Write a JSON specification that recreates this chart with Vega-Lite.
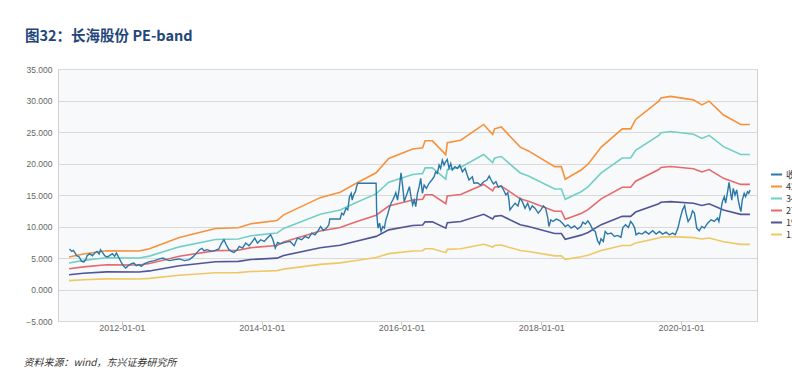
{
"$schema": "https://vega.github.io/schema/vega-lite/v6.json",
"autosize": {"type": "none"},
"width": 699, "height": 252,
"padding": {"left": 58, "top": 69, "right": 35, "bottom": 56},
"background": "#ffffff",
"config": {"view": {"fill": "#f8f9fb", "stroke": "#d0d0d0"}, "font": "Liberation Sans"},
"title": {"text": "图32：长海股份 PE-band", "anchor": "start", "frame": "group", "dx": -33, "offset": 10, "baseline": "alphabetic", "fontSize": 14.5, "font": "Noto Sans CJK SC", "fontWeight": "bold", "color": "#23467a"},
"datasets": {
"bands": [
{"date":"2011-04-01","s":"42.4X","v":5.16},{"date":"2011-04-01","s":"34.7X","v":4.22},{"date":"2011-04-01","s":"27.0X","v":3.29},{"date":"2011-04-01","s":"19.3X","v":2.35},{"date":"2011-04-01","s":"11.6X","v":1.41},
{"date":"2011-06-15","s":"42.4X","v":5.64},{"date":"2011-06-15","s":"34.7X","v":4.62},{"date":"2011-06-15","s":"27.0X","v":3.59},{"date":"2011-06-15","s":"19.3X","v":2.57},{"date":"2011-06-15","s":"11.6X","v":1.54},
{"date":"2011-10-13","s":"42.4X","v":6.16},{"date":"2011-10-13","s":"34.7X","v":5.04},{"date":"2011-10-13","s":"27.0X","v":3.92},{"date":"2011-10-13","s":"19.3X","v":2.80},{"date":"2011-10-13","s":"11.6X","v":1.69},
{"date":"2012-03-31","s":"42.4X","v":6.11},{"date":"2012-03-31","s":"34.7X","v":5.00},{"date":"2012-03-31","s":"27.0X","v":3.89},{"date":"2012-03-31","s":"19.3X","v":2.78},{"date":"2012-03-31","s":"11.6X","v":1.67},
{"date":"2012-05-25","s":"42.4X","v":6.48},{"date":"2012-05-25","s":"34.7X","v":5.30},{"date":"2012-05-25","s":"27.0X","v":4.13},{"date":"2012-05-25","s":"19.3X","v":2.95},{"date":"2012-05-25","s":"11.6X","v":1.77},
{"date":"2012-10-28","s":"42.4X","v":8.27},{"date":"2012-10-28","s":"34.7X","v":6.77},{"date":"2012-10-28","s":"27.0X","v":5.27},{"date":"2012-10-28","s":"19.3X","v":3.76},{"date":"2012-10-28","s":"11.6X","v":2.26},
{"date":"2013-05-05","s":"42.4X","v":9.69},{"date":"2013-05-05","s":"34.7X","v":7.93},{"date":"2013-05-05","s":"27.0X","v":6.17},{"date":"2013-05-05","s":"19.3X","v":4.41},{"date":"2013-05-05","s":"11.6X","v":2.65},
{"date":"2013-09-01","s":"42.4X","v":9.79},{"date":"2013-09-01","s":"34.7X","v":8.01},{"date":"2013-09-01","s":"27.0X","v":6.23},{"date":"2013-09-01","s":"19.3X","v":4.46},{"date":"2013-09-01","s":"11.6X","v":2.68},
{"date":"2013-11-06","s":"42.4X","v":10.43},{"date":"2013-11-06","s":"34.7X","v":8.54},{"date":"2013-11-06","s":"27.0X","v":6.64},{"date":"2013-11-06","s":"19.3X","v":4.75},{"date":"2013-11-06","s":"11.6X","v":2.85},
{"date":"2014-03-22","s":"42.4X","v":10.95},{"date":"2014-03-22","s":"34.7X","v":8.96},{"date":"2014-03-22","s":"27.0X","v":6.97},{"date":"2014-03-22","s":"19.3X","v":4.98},{"date":"2014-03-22","s":"11.6X","v":3.00},
{"date":"2014-04-26","s":"42.4X","v":11.85},{"date":"2014-04-26","s":"34.7X","v":9.70},{"date":"2014-04-26","s":"27.0X","v":7.55},{"date":"2014-04-26","s":"19.3X","v":5.39},{"date":"2014-04-26","s":"11.6X","v":3.24},
{"date":"2014-11-03","s":"42.4X","v":14.58},{"date":"2014-11-03","s":"34.7X","v":11.93},{"date":"2014-11-03","s":"27.0X","v":9.28},{"date":"2014-11-03","s":"19.3X","v":6.64},{"date":"2014-11-03","s":"11.6X","v":3.99},
{"date":"2015-02-15","s":"42.4X","v":15.43},{"date":"2015-02-15","s":"34.7X","v":12.63},{"date":"2015-02-15","s":"27.0X","v":9.83},{"date":"2015-02-15","s":"19.3X","v":7.02},{"date":"2015-02-15","s":"11.6X","v":4.22},
{"date":"2015-05-10","s":"42.4X","v":16.86},{"date":"2015-05-10","s":"34.7X","v":13.80},{"date":"2015-05-10","s":"27.0X","v":10.74},{"date":"2015-05-10","s":"19.3X","v":7.67},{"date":"2015-05-10","s":"11.6X","v":4.61},
{"date":"2015-08-22","s":"42.4X","v":18.53},{"date":"2015-08-22","s":"34.7X","v":15.17},{"date":"2015-08-22","s":"27.0X","v":11.80},{"date":"2015-08-22","s":"19.3X","v":8.43},{"date":"2015-08-22","s":"11.6X","v":5.07},
{"date":"2015-10-27","s":"42.4X","v":20.80},{"date":"2015-10-27","s":"34.7X","v":17.02},{"date":"2015-10-27","s":"27.0X","v":13.25},{"date":"2015-10-27","s":"19.3X","v":9.47},{"date":"2015-10-27","s":"11.6X","v":5.69},
{"date":"2016-02-29","s":"42.4X","v":22.30},{"date":"2016-02-29","s":"34.7X","v":18.25},{"date":"2016-02-29","s":"27.0X","v":14.20},{"date":"2016-02-29","s":"19.3X","v":10.15},{"date":"2016-02-29","s":"11.6X","v":6.10},
{"date":"2016-04-21","s":"42.4X","v":22.50},{"date":"2016-04-21","s":"34.7X","v":18.41},{"date":"2016-04-21","s":"27.0X","v":14.33},{"date":"2016-04-21","s":"19.3X","v":10.24},{"date":"2016-04-21","s":"11.6X","v":6.16},
{"date":"2016-05-04","s":"42.4X","v":23.60},{"date":"2016-05-04","s":"34.7X","v":19.31},{"date":"2016-05-04","s":"27.0X","v":15.03},{"date":"2016-05-04","s":"19.3X","v":10.74},{"date":"2016-05-04","s":"11.6X","v":6.46},
{"date":"2016-06-11","s":"42.4X","v":23.60},{"date":"2016-06-11","s":"34.7X","v":19.31},{"date":"2016-06-11","s":"27.0X","v":15.03},{"date":"2016-06-11","s":"19.3X","v":10.74},{"date":"2016-06-11","s":"11.6X","v":6.46},
{"date":"2016-08-20","s":"42.4X","v":21.40},{"date":"2016-08-20","s":"34.7X","v":17.51},{"date":"2016-08-20","s":"27.0X","v":13.63},{"date":"2016-08-20","s":"19.3X","v":9.74},{"date":"2016-08-20","s":"11.6X","v":5.85},
{"date":"2016-08-28","s":"42.4X","v":23.30},{"date":"2016-08-28","s":"34.7X","v":19.07},{"date":"2016-08-28","s":"27.0X","v":14.84},{"date":"2016-08-28","s":"19.3X","v":10.61},{"date":"2016-08-28","s":"11.6X","v":6.37},
{"date":"2016-11-06","s":"42.4X","v":23.70},{"date":"2016-11-06","s":"34.7X","v":19.40},{"date":"2016-11-06","s":"27.0X","v":15.09},{"date":"2016-11-06","s":"19.3X","v":10.79},{"date":"2016-11-06","s":"11.6X","v":6.48},
{"date":"2017-03-06","s":"42.4X","v":26.20},{"date":"2017-03-06","s":"34.7X","v":21.44},{"date":"2017-03-06","s":"27.0X","v":16.68},{"date":"2017-03-06","s":"19.3X","v":11.93},{"date":"2017-03-06","s":"11.6X","v":7.17},
{"date":"2017-04-22","s":"42.4X","v":24.60},{"date":"2017-04-22","s":"34.7X","v":20.13},{"date":"2017-04-22","s":"27.0X","v":15.67},{"date":"2017-04-22","s":"19.3X","v":11.20},{"date":"2017-04-22","s":"11.6X","v":6.73},
{"date":"2017-05-02","s":"42.4X","v":25.50},{"date":"2017-05-02","s":"34.7X","v":20.87},{"date":"2017-05-02","s":"27.0X","v":16.24},{"date":"2017-05-02","s":"19.3X","v":11.61},{"date":"2017-05-02","s":"11.6X","v":6.98},
{"date":"2017-06-06","s":"42.4X","v":25.80},{"date":"2017-06-06","s":"34.7X","v":21.11},{"date":"2017-06-06","s":"27.0X","v":16.43},{"date":"2017-06-06","s":"19.3X","v":11.74},{"date":"2017-06-06","s":"11.6X","v":7.06},
{"date":"2017-09-13","s":"42.4X","v":22.60},{"date":"2017-09-13","s":"34.7X","v":18.50},{"date":"2017-09-13","s":"27.0X","v":14.39},{"date":"2017-09-13","s":"19.3X","v":10.29},{"date":"2017-09-13","s":"11.6X","v":6.18},
{"date":"2017-10-26","s":"42.4X","v":22.00},{"date":"2017-10-26","s":"34.7X","v":18.00},{"date":"2017-10-26","s":"27.0X","v":14.01},{"date":"2017-10-26","s":"19.3X","v":10.01},{"date":"2017-10-26","s":"11.6X","v":6.02},
{"date":"2018-03-12","s":"42.4X","v":19.50},{"date":"2018-03-12","s":"34.7X","v":15.96},{"date":"2018-03-12","s":"27.0X","v":12.42},{"date":"2018-03-12","s":"19.3X","v":8.88},{"date":"2018-03-12","s":"11.6X","v":5.34},
{"date":"2018-04-16","s":"42.4X","v":19.50},{"date":"2018-04-16","s":"34.7X","v":15.96},{"date":"2018-04-16","s":"27.0X","v":12.42},{"date":"2018-04-16","s":"19.3X","v":8.88},{"date":"2018-04-16","s":"11.6X","v":5.34},
{"date":"2018-05-06","s":"42.4X","v":17.50},{"date":"2018-05-06","s":"34.7X","v":14.32},{"date":"2018-05-06","s":"27.0X","v":11.14},{"date":"2018-05-06","s":"19.3X","v":7.97},{"date":"2018-05-06","s":"11.6X","v":4.79},
{"date":"2018-07-28","s":"42.4X","v":18.96},{"date":"2018-07-28","s":"34.7X","v":15.52},{"date":"2018-07-28","s":"27.0X","v":12.07},{"date":"2018-07-28","s":"19.3X","v":8.63},{"date":"2018-07-28","s":"11.6X","v":5.19},
{"date":"2018-09-02","s":"42.4X","v":19.90},{"date":"2018-09-02","s":"34.7X","v":16.29},{"date":"2018-09-02","s":"27.0X","v":12.67},{"date":"2018-09-02","s":"19.3X","v":9.06},{"date":"2018-09-02","s":"11.6X","v":5.44},
{"date":"2018-11-10","s":"42.4X","v":22.60},{"date":"2018-11-10","s":"34.7X","v":18.50},{"date":"2018-11-10","s":"27.0X","v":14.39},{"date":"2018-11-10","s":"19.3X","v":10.29},{"date":"2018-11-10","s":"11.6X","v":6.18},
{"date":"2019-02-28","s":"42.4X","v":25.50},{"date":"2019-02-28","s":"34.7X","v":20.87},{"date":"2019-02-28","s":"27.0X","v":16.24},{"date":"2019-02-28","s":"19.3X","v":11.61},{"date":"2019-02-28","s":"11.6X","v":6.98},
{"date":"2019-04-13","s":"42.4X","v":25.50},{"date":"2019-04-13","s":"34.7X","v":20.87},{"date":"2019-04-13","s":"27.0X","v":16.24},{"date":"2019-04-13","s":"19.3X","v":11.61},{"date":"2019-04-13","s":"11.6X","v":6.98},
{"date":"2019-05-09","s":"42.4X","v":27.00},{"date":"2019-05-09","s":"34.7X","v":22.10},{"date":"2019-05-09","s":"27.0X","v":17.19},{"date":"2019-05-09","s":"19.3X","v":12.29},{"date":"2019-05-09","s":"11.6X","v":7.39},
{"date":"2019-09-07","s":"42.4X","v":29.90},{"date":"2019-09-07","s":"34.7X","v":24.47},{"date":"2019-09-07","s":"27.0X","v":19.04},{"date":"2019-09-07","s":"19.3X","v":13.61},{"date":"2019-09-07","s":"11.6X","v":8.18},
{"date":"2019-09-18","s":"42.4X","v":30.40},{"date":"2019-09-18","s":"34.7X","v":24.88},{"date":"2019-09-18","s":"27.0X","v":19.36},{"date":"2019-09-18","s":"19.3X","v":13.84},{"date":"2019-09-18","s":"11.6X","v":8.32},
{"date":"2019-11-07","s":"42.4X","v":30.65},{"date":"2019-11-07","s":"34.7X","v":25.08},{"date":"2019-11-07","s":"27.0X","v":19.52},{"date":"2019-11-07","s":"19.3X","v":13.95},{"date":"2019-11-07","s":"11.6X","v":8.39},
{"date":"2020-03-06","s":"42.4X","v":30.10},{"date":"2020-03-06","s":"34.7X","v":24.63},{"date":"2020-03-06","s":"27.0X","v":19.17},{"date":"2020-03-06","s":"19.3X","v":13.70},{"date":"2020-03-06","s":"11.6X","v":8.24},
{"date":"2020-04-19","s":"42.4X","v":29.30},{"date":"2020-04-19","s":"34.7X","v":23.98},{"date":"2020-04-19","s":"27.0X","v":18.66},{"date":"2020-04-19","s":"19.3X","v":13.34},{"date":"2020-04-19","s":"11.6X","v":8.02},
{"date":"2020-05-27","s":"42.4X","v":29.90},{"date":"2020-05-27","s":"34.7X","v":24.47},{"date":"2020-05-27","s":"27.0X","v":19.04},{"date":"2020-05-27","s":"19.3X","v":13.61},{"date":"2020-05-27","s":"11.6X","v":8.18},
{"date":"2020-08-10","s":"42.4X","v":27.70},{"date":"2020-08-10","s":"34.7X","v":22.67},{"date":"2020-08-10","s":"27.0X","v":17.64},{"date":"2020-08-10","s":"19.3X","v":12.61},{"date":"2020-08-10","s":"11.6X","v":7.58},
{"date":"2020-11-08","s":"42.4X","v":26.20},{"date":"2020-11-08","s":"34.7X","v":21.44},{"date":"2020-11-08","s":"27.0X","v":16.68},{"date":"2020-11-08","s":"19.3X","v":11.93},{"date":"2020-11-08","s":"11.6X","v":7.17},
{"date":"2020-12-26","s":"42.4X","v":26.20},{"date":"2020-12-26","s":"34.7X","v":21.44},{"date":"2020-12-26","s":"27.0X","v":16.68},{"date":"2020-12-26","s":"19.3X","v":11.93},{"date":"2020-12-26","s":"11.6X","v":7.17}
],
"close": [
{"date":"2011-04-03","s":"收盘价","v":6.43},{"date":"2011-04-15","s":"收盘价","v":6.05},{"date":"2011-04-23","s":"收盘价","v":6.2},{"date":"2011-05-02","s":"收盘价","v":5.8},{"date":"2011-05-10","s":"收盘价","v":5.37},{"date":"2011-05-24","s":"收盘价","v":5.16},{"date":"2011-06-05","s":"收盘价","v":4.47},{"date":"2011-06-17","s":"收盘价","v":4.37},{"date":"2011-06-27","s":"收盘价","v":4.74},{"date":"2011-07-04","s":"收盘价","v":5.37},{"date":"2011-07-18","s":"收盘价","v":5.69},{"date":"2011-08-01","s":"收盘价","v":5.37},{"date":"2011-08-13","s":"收盘价","v":5.8},{"date":"2011-08-25","s":"收盘价","v":6.05},{"date":"2011-09-05","s":"收盘价","v":5.64},{"date":"2011-09-12","s":"收盘价","v":6.32},{"date":"2011-09-22","s":"收盘价","v":5.9},{"date":"2011-10-04","s":"收盘价","v":5.37},{"date":"2011-10-16","s":"收盘价","v":5.16},{"date":"2011-10-30","s":"收盘价","v":5.37},{"date":"2011-11-13","s":"收盘价","v":5.69},{"date":"2011-11-25","s":"收盘价","v":5.26},{"date":"2011-12-04","s":"收盘价","v":5.8},{"date":"2011-12-18","s":"收盘价","v":5.0},{"date":"2011-12-31","s":"收盘价","v":4.21},
{"date":"2012-01-12","s":"收盘价","v":3.68},{"date":"2012-01-22","s":"收盘价","v":3.42},{"date":"2012-02-04","s":"收盘价","v":3.79},{"date":"2012-02-21","s":"收盘价","v":4.1},{"date":"2012-03-05","s":"收盘价","v":4.21},{"date":"2012-03-17","s":"收盘价","v":3.79},{"date":"2012-03-31","s":"收盘价","v":3.95},{"date":"2012-04-12","s":"收盘价","v":3.68},{"date":"2012-04-29","s":"收盘价","v":4.1},{"date":"2012-05-25","s":"收盘价","v":4.42},{"date":"2012-06-20","s":"收盘价","v":4.58},{"date":"2012-07-16","s":"收盘价","v":4.85},{"date":"2012-08-03","s":"收盘价","v":5.0},{"date":"2012-08-20","s":"收盘价","v":4.74},{"date":"2012-09-07","s":"收盘价","v":4.58},{"date":"2012-10-03","s":"收盘价","v":4.74},{"date":"2012-10-28","s":"收盘价","v":4.85},{"date":"2012-11-24","s":"收盘价","v":4.58},{"date":"2012-12-19","s":"收盘价","v":4.74},
{"date":"2013-01-10","s":"收盘价","v":5.26},{"date":"2013-01-23","s":"收盘价","v":5.69},{"date":"2013-02-10","s":"收盘价","v":6.32},{"date":"2013-02-23","s":"收盘价","v":6.53},{"date":"2013-03-06","s":"收盘价","v":6.16},{"date":"2013-03-23","s":"收盘价","v":6.32},{"date":"2013-04-15","s":"收盘价","v":6.05},{"date":"2013-05-05","s":"收盘价","v":6.2},{"date":"2013-05-22","s":"收盘价","v":6.43},{"date":"2013-06-06","s":"收盘价","v":7.37},{"date":"2013-06-18","s":"收盘价","v":7.9},{"date":"2013-06-30","s":"收盘价","v":7.11},{"date":"2013-07-14","s":"收盘价","v":6.32},{"date":"2013-07-27","s":"收盘价","v":6.05},{"date":"2013-08-09","s":"收盘价","v":5.9},{"date":"2013-08-26","s":"收盘价","v":6.32},{"date":"2013-09-06","s":"收盘价","v":6.85},{"date":"2013-09-23","s":"收盘价","v":6.58},{"date":"2013-10-10","s":"收盘价","v":7.37},{"date":"2013-10-27","s":"收盘价","v":6.95},{"date":"2013-11-14","s":"收盘价","v":7.63},{"date":"2013-11-26","s":"收盘价","v":8.16},{"date":"2013-12-10","s":"收盘价","v":7.37},{"date":"2013-12-27","s":"收盘价","v":7.9},
{"date":"2014-01-14","s":"收盘价","v":7.63},{"date":"2014-01-31","s":"收盘价","v":8.16},{"date":"2014-02-17","s":"收盘价","v":8.69},{"date":"2014-03-01","s":"收盘价","v":7.9},{"date":"2014-03-13","s":"收盘价","v":6.58},{"date":"2014-03-25","s":"收盘价","v":7.48},{"date":"2014-04-08","s":"收盘价","v":7.27},{"date":"2014-05-04","s":"收盘价","v":7.48},{"date":"2014-05-30","s":"收盘价","v":7.63},{"date":"2014-06-20","s":"收盘价","v":6.95},{"date":"2014-07-07","s":"收盘价","v":8.16},{"date":"2014-07-29","s":"收盘价","v":7.9},{"date":"2014-08-16","s":"收盘价","v":8.42},{"date":"2014-09-03","s":"收盘价","v":8.16},{"date":"2014-09-20","s":"收盘价","v":8.96},{"date":"2014-10-07","s":"收盘价","v":8.69},{"date":"2014-10-24","s":"收盘价","v":9.37},{"date":"2014-11-05","s":"收盘价","v":10.0},{"date":"2014-11-19","s":"收盘价","v":9.37},{"date":"2014-12-06","s":"收盘价","v":9.75},{"date":"2014-12-18","s":"收盘价","v":10.27},{"date":"2014-12-23","s":"收盘价","v":11.2},
{"date":"2015-02-15","s":"收盘价","v":11.2},{"date":"2015-02-23","s":"收盘价","v":12.1},{"date":"2015-03-05","s":"收盘价","v":11.85},{"date":"2015-03-18","s":"收盘价","v":12.9},{"date":"2015-03-27","s":"收盘价","v":12.64},{"date":"2015-04-05","s":"收盘价","v":14.74},{"date":"2015-04-14","s":"收盘价","v":15.27},{"date":"2015-04-19","s":"收盘价","v":14.2},{"date":"2015-04-26","s":"收盘价","v":15.0},{"date":"2015-05-06","s":"收盘价","v":15.53},{"date":"2015-05-13","s":"收盘价","v":16.43},{"date":"2015-05-18","s":"收盘价","v":16.86},{"date":"2015-08-22","s":"收盘价","v":16.86},{"date":"2015-08-25","s":"收盘价","v":12.1},{"date":"2015-09-01","s":"收盘价","v":9.75},{"date":"2015-09-09","s":"收盘价","v":10.53},{"date":"2015-09-17","s":"收盘价","v":9.21},{"date":"2015-09-26","s":"收盘价","v":10.0},{"date":"2015-10-04","s":"收盘价","v":9.75},{"date":"2015-10-12","s":"收盘价","v":11.06},{"date":"2015-10-21","s":"收盘价","v":11.85},{"date":"2015-10-30","s":"收盘价","v":12.9},{"date":"2015-11-08","s":"收盘价","v":13.7},{"date":"2015-11-17","s":"收盘价","v":14.2},{"date":"2015-11-25","s":"收盘价","v":14.74},{"date":"2015-12-03","s":"收盘价","v":15.37},{"date":"2015-12-12","s":"收盘价","v":14.2},{"date":"2015-12-21","s":"收盘价","v":16.06},{"date":"2015-12-30","s":"收盘价","v":18.53},
{"date":"2016-01-08","s":"收盘价","v":16.32},{"date":"2016-01-16","s":"收盘价","v":13.95},{"date":"2016-01-25","s":"收盘价","v":14.74},{"date":"2016-02-03","s":"收盘价","v":15.53},{"date":"2016-02-12","s":"收盘价","v":16.32},{"date":"2016-02-20","s":"收盘价","v":14.74},{"date":"2016-02-29","s":"收盘价","v":13.43},{"date":"2016-03-08","s":"收盘价","v":14.2},{"date":"2016-03-16","s":"收盘价","v":13.16},{"date":"2016-03-25","s":"收盘价","v":15.27},{"date":"2016-04-03","s":"收盘价","v":16.32},{"date":"2016-04-11","s":"收盘价","v":17.65},{"date":"2016-04-20","s":"收盘价","v":15.27},{"date":"2016-04-29","s":"收盘价","v":16.59},{"date":"2016-05-11","s":"收盘价","v":16.06},{"date":"2016-05-25","s":"收盘价","v":16.86},{"date":"2016-06-08","s":"收盘价","v":17.38},{"date":"2016-06-20","s":"收盘价","v":17.9},{"date":"2016-06-28","s":"收盘价","v":18.69},{"date":"2016-07-07","s":"收盘价","v":18.43},{"date":"2016-07-16","s":"收盘价","v":19.75},{"date":"2016-07-24","s":"收盘价","v":19.22},{"date":"2016-08-02","s":"收盘价","v":20.54},{"date":"2016-08-11","s":"收盘价","v":19.75},{"date":"2016-08-19","s":"收盘价","v":20.27},{"date":"2016-08-28","s":"收盘价","v":20.64},{"date":"2016-09-06","s":"收盘价","v":19.22},{"date":"2016-09-15","s":"收盘价","v":20.0},{"date":"2016-09-23","s":"收盘价","v":18.96},{"date":"2016-10-07","s":"收盘价","v":19.48},{"date":"2016-10-19","s":"收盘价","v":19.22},{"date":"2016-11-01","s":"收盘价","v":19.75},{"date":"2016-11-15","s":"收盘价","v":18.69},{"date":"2016-11-29","s":"收盘价","v":19.22},{"date":"2016-12-10","s":"收盘价","v":18.17},{"date":"2016-12-19","s":"收盘价","v":17.38},
{"date":"2017-01-06","s":"收盘价","v":17.9},{"date":"2017-01-14","s":"收盘价","v":16.86},{"date":"2017-02-01","s":"收盘价","v":16.95},{"date":"2017-02-18","s":"收盘价","v":16.59},{"date":"2017-03-06","s":"收盘价","v":17.11},{"date":"2017-03-23","s":"收盘价","v":17.38},{"date":"2017-04-04","s":"收盘价","v":18.0},{"date":"2017-04-14","s":"收盘价","v":17.38},{"date":"2017-04-26","s":"收盘价","v":16.75},{"date":"2017-05-09","s":"收盘价","v":17.11},{"date":"2017-05-22","s":"收盘价","v":16.22},{"date":"2017-06-05","s":"收盘价","v":16.43},{"date":"2017-06-18","s":"收盘价","v":15.8},{"date":"2017-06-30","s":"收盘价","v":15.0},{"date":"2017-07-10","s":"收盘价","v":15.37},{"date":"2017-07-16","s":"收盘价","v":14.2},{"date":"2017-07-21","s":"收盘价","v":12.64},{"date":"2017-08-03","s":"收盘价","v":13.16},{"date":"2017-08-17","s":"收盘价","v":13.7},{"date":"2017-09-01","s":"收盘价","v":13.27},{"date":"2017-09-12","s":"收盘价","v":14.49},{"date":"2017-09-24","s":"收盘价","v":13.95},{"date":"2017-10-08","s":"收盘价","v":12.9},{"date":"2017-10-22","s":"收盘价","v":13.7},{"date":"2017-11-03","s":"收盘价","v":12.64},{"date":"2017-11-15","s":"收盘价","v":13.27},{"date":"2017-11-29","s":"收盘价","v":12.9},{"date":"2017-12-16","s":"收盘价","v":12.12},{"date":"2017-12-30","s":"收盘价","v":12.64},
{"date":"2018-01-12","s":"收盘价","v":13.27},{"date":"2018-01-24","s":"收盘价","v":12.9},{"date":"2018-02-04","s":"收盘价","v":11.33},{"date":"2018-02-10","s":"收盘价","v":10.0},{"date":"2018-02-20","s":"收盘价","v":11.06},{"date":"2018-03-03","s":"收盘价","v":10.8},{"date":"2018-03-20","s":"收盘价","v":11.17},{"date":"2018-04-07","s":"收盘价","v":10.95},{"date":"2018-04-24","s":"收盘价","v":10.43},{"date":"2018-05-06","s":"收盘价","v":10.0},{"date":"2018-05-20","s":"收盘价","v":10.27},{"date":"2018-06-06","s":"收盘价","v":9.75},{"date":"2018-06-23","s":"收盘价","v":10.11},{"date":"2018-07-10","s":"收盘价","v":9.59},{"date":"2018-07-27","s":"收盘价","v":10.0},{"date":"2018-08-06","s":"收盘价","v":10.69},{"date":"2018-08-19","s":"收盘价","v":10.38},{"date":"2018-09-01","s":"收盘价","v":10.9},{"date":"2018-09-13","s":"收盘价","v":10.38},{"date":"2018-09-27","s":"收盘价","v":9.48},{"date":"2018-10-10","s":"收盘价","v":9.21},{"date":"2018-10-22","s":"收盘价","v":7.74},{"date":"2018-11-01","s":"收盘价","v":7.22},{"date":"2018-11-09","s":"收盘价","v":8.06},{"date":"2018-11-21","s":"收盘价","v":7.63},{"date":"2018-12-01","s":"收盘价","v":9.21},{"date":"2018-12-13","s":"收盘价","v":8.8},
{"date":"2019-01-01","s":"收盘价","v":8.96},{"date":"2019-01-18","s":"收盘价","v":8.42},{"date":"2019-02-04","s":"收盘价","v":8.58},{"date":"2019-02-21","s":"收盘价","v":8.26},{"date":"2019-03-03","s":"收盘价","v":9.84},{"date":"2019-03-17","s":"收盘价","v":10.27},{"date":"2019-04-01","s":"收盘价","v":9.84},{"date":"2019-04-13","s":"收盘价","v":10.8},{"date":"2019-04-24","s":"收盘价","v":10.38},{"date":"2019-05-04","s":"收盘价","v":9.75},{"date":"2019-05-11","s":"收盘价","v":8.69},{"date":"2019-05-25","s":"收盘价","v":8.96},{"date":"2019-06-12","s":"收盘价","v":8.8},{"date":"2019-06-29","s":"收盘价","v":9.21},{"date":"2019-07-16","s":"收盘价","v":8.8},{"date":"2019-08-06","s":"收盘价","v":9.32},{"date":"2019-08-24","s":"收盘价","v":8.8},{"date":"2019-09-10","s":"收盘价","v":9.21},{"date":"2019-09-27","s":"收盘价","v":8.8},{"date":"2019-10-15","s":"收盘价","v":9.11},{"date":"2019-11-01","s":"收盘价","v":8.69},{"date":"2019-11-18","s":"收盘价","v":8.96},{"date":"2019-12-02","s":"收盘价","v":8.69},{"date":"2019-12-16","s":"收盘价","v":9.75},{"date":"2019-12-28","s":"收盘价","v":11.33},
{"date":"2020-01-09","s":"收盘价","v":12.64},{"date":"2020-01-20","s":"收盘价","v":13.32},{"date":"2020-01-27","s":"收盘价","v":12.12},{"date":"2020-02-07","s":"收盘价","v":10.8},{"date":"2020-02-19","s":"收盘价","v":11.33},{"date":"2020-03-01","s":"收盘价","v":12.48},{"date":"2020-03-11","s":"收盘价","v":12.12},{"date":"2020-03-23","s":"收盘价","v":9.75},{"date":"2020-04-05","s":"收盘价","v":9.32},{"date":"2020-04-19","s":"收盘价","v":10.0},{"date":"2020-05-02","s":"收盘价","v":9.75},{"date":"2020-05-19","s":"收盘价","v":10.53},{"date":"2020-06-06","s":"收盘价","v":11.06},{"date":"2020-06-23","s":"收盘价","v":10.8},{"date":"2020-07-10","s":"收盘价","v":11.33},{"date":"2020-07-17","s":"收盘价","v":10.8},{"date":"2020-07-27","s":"收盘价","v":12.48},{"date":"2020-08-04","s":"收盘价","v":13.95},{"date":"2020-08-14","s":"收盘价","v":14.74},{"date":"2020-08-21","s":"收盘价","v":13.7},{"date":"2020-09-01","s":"收盘价","v":15.64},{"date":"2020-09-08","s":"收盘价","v":17.01},{"date":"2020-09-15","s":"收盘价","v":15.53},{"date":"2020-09-22","s":"收盘价","v":14.2},{"date":"2020-09-30","s":"收盘价","v":16.06},{"date":"2020-10-09","s":"收盘价","v":15.0},{"date":"2020-10-18","s":"收盘价","v":15.8},{"date":"2020-10-26","s":"收盘价","v":14.2},{"date":"2020-11-04","s":"收盘价","v":12.9},{"date":"2020-11-09","s":"收盘价","v":12.37},{"date":"2020-11-16","s":"收盘价","v":14.2},{"date":"2020-11-26","s":"收盘价","v":15.27},{"date":"2020-12-03","s":"收盘价","v":14.74},{"date":"2020-12-14","s":"收盘价","v":15.53},{"date":"2020-12-20","s":"收盘价","v":15.27},{"date":"2020-12-27","s":"收盘价","v":15.8}
]
},
"encoding": {
"x": {"field": "date", "type": "temporal",
 "scale": {"type": "utc", "domain": [{"year": 2011, "month": 2, "date": 2, "utc": true}, {"year": 2021, "month": 2, "date": 1, "utc": true}]},
 "axis": {"values": [{"year": 2012, "month": 1, "date": 1, "utc": true}, {"year": 2014, "month": 1, "date": 1, "utc": true}, {"year": 2016, "month": 1, "date": 1, "utc": true}, {"year": 2018, "month": 1, "date": 1, "utc": true}, {"year": 2020, "month": 1, "date": 1, "utc": true}],
  "format": "%Y-%m-%d", "grid": false, "domain": false, "tickColor": "#c8c8c8", "tickSize": 4, "labelPadding": -2, "labelFlush": false,
  "labelFontSize": 9, "labelColor": "#666666", "labelFont": "Liberation Sans",
  "title": "资料来源：wind，东兴证券研究所", "titleAnchor": "start", "titleAlign": "left", "titleX": -35, "titleY": 41, "titleBaseline": "middle",
  "titleFontSize": 10, "titleFontStyle": "italic", "titleFontWeight": "normal", "titleColor": "#333333", "titleFont": "Noto Sans CJK SC"}},
"y": {"field": "v", "type": "quantitative",
 "scale": {"domain": [-5, 35], "nice": false, "zero": false},
 "axis": {"values": [-5, 0, 5, 10, 15, 20, 25, 30, 35], "format": ".3f", "domain": false, "ticks": false, "tickSize": 0, "labelPadding": 6,
  "gridColor": "#d9d9d9", "gridWidth": 1, "labelFontSize": 8.5, "labelColor": "#666666", "labelFont": "Liberation Sans", "title": null}},
"color": {"field": "s", "type": "nominal",
 "scale": {"domain": ["收盘价", "42.4X", "34.7X", "27.0X", "19.3X", "11.6X"], "range": ["#2a78a8", "#f7923a", "#72cfc6", "#e66a6c", "#4f5597", "#eec863"]},
 "legend": {"orient": "none", "legendX": 712, "legendY": 99, "title": null, "symbolType": "stroke", "symbolStrokeWidth": 2, "symbolSize": 121,
  "labelFontSize": 9, "labelColor": "#333333", "labelFont": "Noto Sans CJK SC", "rowPadding": 0, "labelOffset": 3}}
},
"layer": [
{"data": {"name": "bands"}, "mark": {"type": "line", "strokeWidth": 1.6}},
{"data": {"name": "close"}, "mark": {"type": "line", "strokeWidth": 1.4}}
]
}
